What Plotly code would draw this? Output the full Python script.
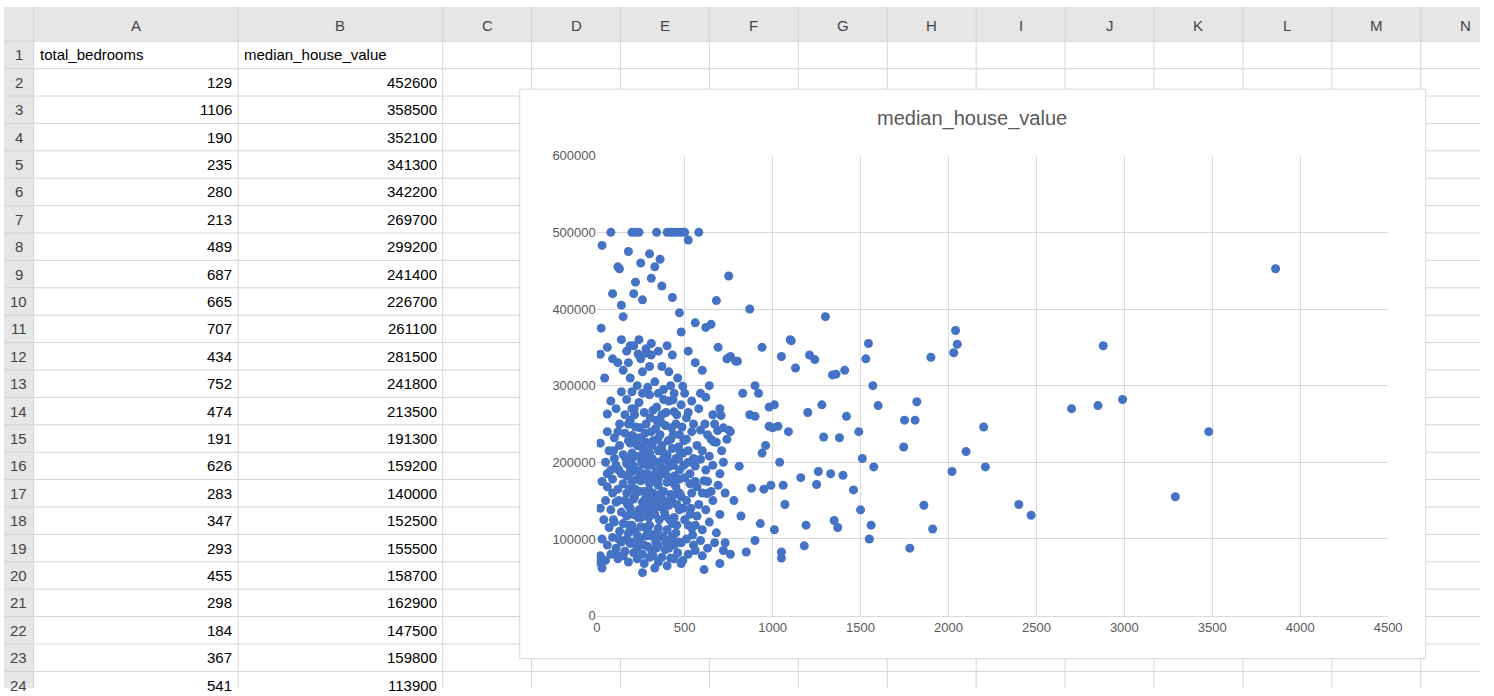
import plotly.graph_objects as go

W, H = 1494, 696

# spreadsheet content
col_letters = ["A", "B", "C", "D", "E", "F", "G", "H", "I", "J", "K", "L", "M", "N"]
col_edges = [30, 237, 444, 534, 624, 714, 804, 894, 984, 1074, 1164, 1254, 1344, 1434, 1524]
header_a = "total_bedrooms"
header_b = "median_house_value"
table_bedrooms = [129, 1106, 190, 235, 280, 213, 489, 687, 665, 707, 434, 752, 474, 191,
                  626, 283, 347, 293, 455, 298, 184, 367, 541]
table_values = [452600, 358500, 352100, 341300, 342200, 269700, 299200, 241400, 226700,
                261100, 281500, 241800, 213500, 191300, 159200, 140000, 152500, 155500,
                158700, 162900, 147500, 159800, 113900]

# scatter points (total_bedrooms, median_house_value)
sparse_pts = [
    (3860, 452600), (2880, 352000), (2990, 282000), (2850, 274000), (2700, 270000),
    (3480, 240000), (3290, 155000), (2400, 145000), (2470, 131000), (2210, 194000),
    (2200, 246000), (2100, 214000), (2050, 354000), (2040, 372000), (2030, 343000),
    (2020, 188000), (1900, 337000), (1910, 113000), (1860, 144000), (1820, 279000),
    (1810, 255000), (1780, 88000), (1750, 255000), (1745, 220000), (1600, 274000),
    (1570, 300000), (1575, 194000), (1560, 118000), (1550, 100000), (1545, 355000),
    (1530, 335000), (1510, 205000), (1500, 138000), (1490, 240000), (1460, 164000),
    (1420, 260000), (1410, 320000), (1400, 183000), (1380, 232000), (1370, 115000),
    (1360, 315000), (1340, 314000), (1350, 124000), (1330, 185000), (1300, 390000),
    (1290, 233000), (1280, 275000), (1260, 188000), (1250, 171000), (1240, 334000),
    (1210, 340000), (1200, 265000), (1190, 118000), (1180, 91000), (1160, 180000),
    (1130, 323000), (1100, 360000), (1090, 240000), (1070, 145000), (1060, 170000),
    (1050, 338000), (1050, 75000), (1050, 83000), (1040, 200000), (1030, 247000),
    (1010, 275000), (980, 247000), (960, 222000), (940, 350000), (920, 290000),
    (900, 260000), (880, 166000), (850, 83000), (830, 290000), (810, 195000),
    (790, 332000), (760, 240000), (750, 443000), (740, 335000), (720, 200000),
    (700, 68000), (680, 411000), (650, 380000), (610, 60000), (580, 500000),
    (520, 490000), (500, 500000), (480, 500000), (460, 500000), (440, 500000),
    (420, 500000), (400, 500000), (340, 500000), (240, 500000), (220, 500000),
    (200, 500000), (80, 500000), (30, 483000), (25, 375000), (20, 341000),
    (10, 70000), (30, 62000), (45, 310000), (60, 263000), (120, 455000),
    (150, 390000), (180, 475000), (220, 435000), (250, 460000), (300, 472000),
    (330, 455000), (360, 465000), (370, 430000), (90, 420000), (140, 405000),
    (210, 420000), (260, 412000), (310, 440000), (430, 415000), (470, 395000),
    (560, 382000), (620, 376000), (870, 400000), (690, 350000), (760, 338000),
    (800, 332000), (900, 300000), (980, 272000), (1000, 245000), (870, 262000),
    (940, 212000), (950, 165000), (990, 170000), (1010, 112000), (930, 120000),
    (900, 98000), (820, 130000), (780, 150000), (730, 95000), (760, 80000),
]
cluster_pts = [
    (60, 350000), (90, 335000), (120, 330000), (170, 345000), (210, 352000), (240, 360000),
    (280, 348000), (310, 340000), (350, 345000), (400, 352000), (430, 340000), (480, 370000),
    (520, 345000), (560, 330000), (600, 320000), (150, 320000), (190, 310000), (230, 300000),
    (260, 318000), (300, 325000), (330, 305000), (380, 295000), (420, 300000), (460, 310000),
    (500, 290000), (540, 280000), (580, 270000), (620, 285000), (660, 262000), (700, 270000),
    (80, 280000), (110, 270000), (140, 292000), (170, 282000), (200, 270000), (240, 278000),
    (270, 265000), (300, 288000), (340, 272000), (370, 262000), (410, 280000), (440, 266000),
    (480, 275000), (510, 258000), (550, 250000), (590, 242000), (630, 236000), (670, 250000),
    (720, 245000), (60, 240000), (100, 232000), (130, 250000), (160, 238000), (190, 255000),
    (220, 246000), (250, 232000), (280, 250000), (310, 240000), (340, 255000), (360, 236000),
    (390, 248000), (420, 230000), (450, 250000), (470, 236000), (510, 230000), (540, 240000),
    (570, 222000), (600, 215000), (640, 208000), (680, 226000), (710, 215000), (740, 230000),
    (20, 225000), (70, 215000), (100, 205000), (130, 222000), (150, 210000), (180, 228000),
    (200, 212000), (230, 222000), (260, 210000), (280, 226000), (300, 212000), (320, 228000),
    (350, 215000), (370, 222000), (400, 210000), (430, 218000), (450, 205000), (490, 212000),
    (520, 200000), (560, 195000), (590, 204000), (620, 190000), (660, 196000), (700, 185000),
    (50, 200000), (80, 190000), (110, 196000), (140, 185000), (170, 198000), (190, 186000),
    (210, 195000), (240, 188000), (260, 198000), (290, 185000), (310, 196000), (340, 188000),
    (360, 198000), (390, 186000), (410, 194000), (440, 182000), (470, 190000), (500, 180000),
    (530, 172000), (570, 168000), (610, 176000), (650, 162000), (690, 170000), (730, 160000),
    (30, 175000), (60, 168000), (90, 178000), (120, 165000), (150, 172000), (170, 160000),
    (200, 175000), (220, 165000), (250, 176000), (270, 162000), (300, 172000), (320, 160000),
    (350, 170000), (380, 162000), (400, 174000), (420, 158000), (450, 168000), (480, 155000),
    (510, 150000), (540, 160000), (580, 145000), (620, 138000), (660, 150000), (700, 132000),
    (20, 140000), (50, 150000), (80, 138000), (110, 148000), (140, 135000), (160, 150000),
    (190, 140000), (210, 152000), (240, 138000), (260, 148000), (290, 135000), (310, 145000),
    (330, 132000), (360, 142000), (390, 130000), (410, 144000), (440, 128000), (470, 138000),
    (500, 125000), (530, 132000), (560, 118000), (600, 112000), (640, 122000), (680, 108000),
    (40, 125000), (70, 115000), (100, 122000), (130, 110000), (150, 120000), (180, 108000),
    (200, 118000), (230, 105000), (250, 116000), (280, 104000), (300, 118000), (330, 106000),
    (350, 114000), (380, 102000), (400, 112000), (420, 98000), (450, 108000), (480, 95000),
    (510, 100000), (550, 92000), (590, 98000), (630, 88000), (670, 95000), (720, 85000),
    (30, 100000), (60, 92000), (90, 102000), (110, 88000), (140, 96000), (160, 84000),
    (190, 94000), (210, 82000), (240, 92000), (260, 80000), (290, 90000), (320, 78000),
    (340, 88000), (370, 76000), (390, 86000), (420, 75000), (460, 82000), (490, 72000),
    (520, 80000), (560, 85000), (600, 78000), (20, 78000), (50, 72000), (80, 80000),
    (120, 74000), (150, 78000), (180, 70000), (230, 74000), (270, 68000), (300, 76000),
    (350, 70000), (400, 65000), (440, 74000), (260, 56000), (330, 62000), (480, 68000),
    (120, 240000), (200, 235000), (280, 205000), (330, 178000), (380, 150000), (430, 120000),
    (250, 128000), (170, 130000), (90, 160000), (60, 185000), (320, 268000), (380, 282000),
    (160, 262000), (440, 290000), (470, 160000), (520, 265000), (380, 205000), (290, 112000),
]
# extra fill for the densest part of the cloud
core_pts = [
    (180, 250000), (215, 262000), (245, 245000), (275, 238000), (305, 258000), (335, 244000),
    (365, 252000), (395, 265000), (425, 245000), (455, 262000), (485, 246000), (190, 225000),
    (220, 232000), (255, 220000), (285, 215000), (315, 222000), (345, 230000), (375, 214000),
    (405, 228000), (435, 236000), (465, 220000), (495, 228000), (165, 205000), (195, 202000),
    (225, 208000), (255, 200000), (285, 196000), (315, 205000), (345, 200000), (375, 192000),
    (405, 202000), (435, 196000), (465, 204000), (495, 196000), (170, 182000), (200, 188000),
    (230, 178000), (260, 185000), (290, 176000), (320, 182000), (350, 178000), (380, 185000),
    (410, 180000), (440, 172000), (470, 178000), (185, 165000), (215, 155000), (245, 162000),
    (275, 152000), (305, 158000), (335, 150000), (365, 155000), (395, 146000), (425, 152000),
    (455, 145000), (490, 140000), (175, 145000), (205, 132000), (235, 128000), (265, 138000),
    (295, 128000), (325, 138000), (355, 125000), (385, 135000), (415, 125000), (455, 118000),
    (185, 118000), (215, 110000), (245, 100000), (275, 115000), (305, 104000), (335, 96000),
    (365, 104000), (395, 96000), (430, 104000), (465, 96000), (170, 100000), (200, 96000),
    (230, 88000), (270, 92000), (310, 86000), (350, 92000), (410, 88000), (440, 92000),
    (125, 190000), (95, 215000), (125, 150000), (95, 125000), (125, 100000), (110, 80000),
    (200, 292000), (260, 290000), (290, 298000), (350, 290000), (180, 330000), (250, 335000),
    (310, 355000), (370, 325000), (410, 318000), (140, 360000), (520, 215000), (550, 205000),
    (530, 185000), (560, 175000), (535, 140000), (570, 130000), (520, 118000), (545, 105000),
    (600, 160000), (630, 175000), (615, 250000), (650, 230000), (590, 290000), (640, 300000),
]

pts = sparse_pts + cluster_pts + core_pts + list(zip(table_bedrooms, table_values))
x_vals = [p[0] for p in pts]
y_vals = [p[1] for p in pts]


def px(x):
    return x / W


def py(y):
    return 1 - y / H


FONT = "Liberation Sans"
GRID = "#d4d4d4"
shapes, annos = [], []


def text(x, y, s, size=15, color="black", anchor="center"):
    annos.append(dict(xref="paper", yref="paper", x=px(x), y=py(y), text=s,
                      showarrow=False, xanchor=anchor, yanchor="middle",
                      font=dict(size=size, color=color, family=FONT)))


# header band and row-number column
shapes.append(dict(type="rect", xref="paper", yref="paper", x0=0, x1=1, y0=py(35), y1=1,
                   fillcolor="#e6e6e6", line_width=0, layer="below"))
shapes.append(dict(type="rect", xref="paper", yref="paper", x0=0, x1=px(30), y0=0, y1=1,
                   fillcolor="#e6e6e6", line_width=0, layer="below"))

for e in col_edges:
    shapes.append(dict(type="line", xref="paper", yref="paper", x0=px(e), x1=px(e),
                       y0=0, y1=1, line=dict(color=GRID, width=1), layer="below"))
for i in range(26):
    yy = 35 + i * 28
    shapes.append(dict(type="line", xref="paper", yref="paper", x0=0, x1=1,
                       y0=py(yy), y1=py(yy), line=dict(color=GRID, width=1), layer="below"))

for i, c in enumerate(col_letters):
    text((col_edges[i] + col_edges[i + 1]) / 2, 19, c, color="#444444")
for r in range(1, 25):
    text(15, 49 + (r - 1) * 28, str(r), color="#444444")

text(34, 49, header_a, anchor="left")
text(241, 49, header_b, anchor="left")
for i, (b, v) in enumerate(zip(table_bedrooms, table_values)):
    text(233, 77 + i * 28, str(b), anchor="right")
    text(440, 77 + i * 28, str(v), anchor="right")

# chart area
shapes.append(dict(type="rect", xref="paper", yref="paper", x0=px(522), x1=px(1439),
                   y0=py(666), y1=py(84), fillcolor="white",
                   line=dict(color="#d9d9d9", width=1), layer="below"))
text(980, 114, "median_house_value", size=20, color="#595959")

fig = go.Figure(go.Scatter(
    x=x_vals, y=y_vals, mode="markers",
    marker=dict(color="#4472C4", size=9, line=dict(width=0)),
    hoverinfo="x+y",
))

fig.update_layout(
    autosize=True, margin=dict(l=0, r=0, t=0, b=0),
    paper_bgcolor="white", plot_bgcolor="rgba(0,0,0,0)",
    showlegend=False, shapes=shapes, annotations=annos,
    font=dict(family=FONT),
    xaxis=dict(domain=[px(600), px(1401)], range=[0, 4500], dtick=500,
               showgrid=True, gridcolor="#d9d9d9", zeroline=False,
               showline=True, linecolor="#d9d9d9", ticks="",
               tickfont=dict(size=13, color="#595959")),
    yaxis=dict(domain=[py(622), py(152)], range=[0, 600000], dtick=100000,
               showgrid=True, gridcolor="#d9d9d9", zeroline=False,
               showline=False, ticks="", tickformat="d",
               tickfont=dict(size=13, color="#595959")),
)

fig.write_html(
    "out.html",
    config={"displayModeBar": False, "responsive": True},
    default_width="100vw", default_height="100vh",
    post_script="document.documentElement.style.margin='0';"
                "document.body.style.margin='0';document.body.style.overflow='hidden';"
                "Plotly.Plots.resize(document.getElementById('{plot_id}'));",
)
